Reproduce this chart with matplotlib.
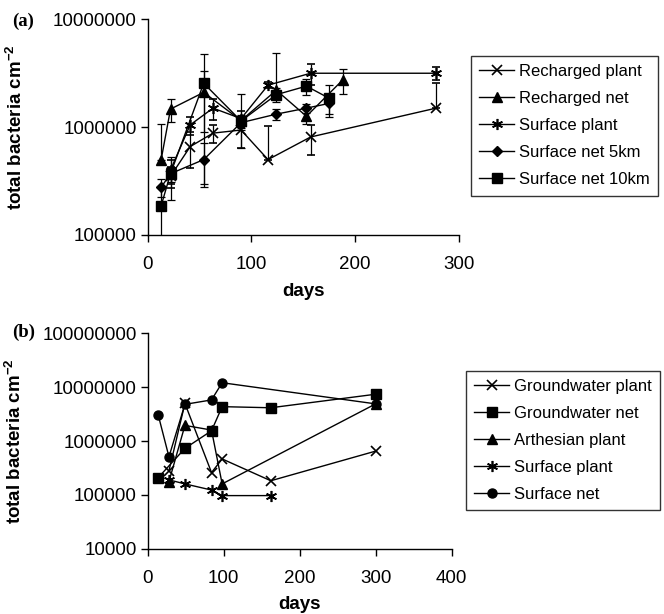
import numpy as np
import matplotlib
matplotlib.use("Agg")
import matplotlib.pyplot as plt
from matplotlib.lines import Line2D
from matplotlib.ticker import FixedLocator, FuncFormatter

plt.rcParams['font.family'] = ['Liberation Sans', 'DejaVu Sans']
plt.rcParams['mathtext.fontset'] = 'custom'
plt.rcParams['mathtext.rm'] = 'Liberation Sans'
plt.rcParams['mathtext.bf'] = 'Liberation Sans:bold'

# --- panel (a) data: days, counts, error bars (low, high) ---
rp_days = [22, 41, 63, 90, 116, 157, 278]
rp_vals = [3.5e5, 6.6e5, 8.8e5, 9.4e5, 5.0e5, 8.1e5, 1.5e6]
rp_lo = [8e4, 2.4e5, 1.6e5, 3.0e5, 0, 2.6e5, 0]
rp_hi = [8e4, 2.4e5, 1.6e5, 3.0e5, 5.3e5, 2.4e5, 1.05e6]

rn_days = [13, 22, 54, 90, 124, 153, 188]
rn_vals = [5.0e5, 1.47e6, 2.1e6, 1.15e6, 2.2e6, 1.26e6, 2.74e6]
rn_lo = [0, 3.6e5, 1.2e6, 5.1e5, 0, 2.0e5, 7.0e5]
rn_hi = [5.7e5, 3.6e5, 1.2e6, 9.0e5, 2.7e6, 2.0e5, 7.0e5]

sp_days = [22, 41, 63, 90, 116, 157, 278]
sp_vals = [4.0e5, 1.05e6, 1.5e6, 1.2e6, 2.45e6, 3.16e6, 3.16e6]
sp_err = [1.0e5, 2.0e5, 3.3e5, 2.0e5, 1.5e5, 7.0e5, 4.5e5]

s5_days = [13, 22, 54, 90, 124, 153, 175]
s5_vals = [2.77e5, 3.7e5, 5.0e5, 1.1e6, 1.32e6, 1.5e6, 1.66e6]
s5_err = [5e4, 6e4, 2.2e5, 1.5e5, 1.5e5, 1.5e5, 3.5e5]

s10_days = [13, 22, 54, 90, 124, 153, 175]
s10_vals = [1.87e5, 3.7e5, 2.55e6, 1.14e6, 2.0e6, 2.4e6, 1.85e6]
s10_err = [9.1e4, 1.6e5, 2.25e6, 1.5e5, 3.0e5, 4.0e5, 6.0e5]

# --- panel (b) data ---
gp_days = [28, 49, 84, 98, 162, 300]
gp_vals = [2.8e5, 5.0e6, 2.6e5, 4.65e5, 1.83e5, 6.5e5]
gn_days = [14, 49, 84, 98, 162, 300]
gn_vals = [2.1e5, 7.3e5, 1.55e6, 4.35e6, 4.15e6, 7.4e6]
ap_days = [28, 49, 84, 98, 300]
ap_vals = [1.76e5, 1.95e6, 1.6e6, 1.6e5, 4.9e6]
bsp_days = [28, 49, 84, 98, 162]
bsp_vals = [1.9e5, 1.6e5, 1.23e5, 9.7e4, 9.7e4]
sn_days = [14, 28, 49, 84, 98, 300]
sn_vals = [3.0e6, 5.1e5, 4.8e6, 5.8e6, 1.21e7, 4.9e6]

ASTER = (6, 2, 0)
kw = dict(color='black', lw=1.0, mec='black', mfc='black')
mk_x = dict(marker='x', ms=7, mew=1.2)
mk_tri = dict(marker='^', ms=6.5)
mk_ast = dict(marker=ASTER, ms=8, mew=1.2)
mk_dia = dict(marker='D', ms=5)
mk_sq = dict(marker='s', ms=6.5)
mk_o = dict(marker='o', ms=6.5)

fig = plt.figure(figsize=(6.64, 6.14), dpi=100)
ax1 = fig.add_axes([0.2224, 0.6173, 0.4688, 0.3513])
ax2 = fig.add_axes([0.2224, 0.1063, 0.4578, 0.3508])

ebkw = dict(capsize=3.2, elinewidth=0.9, capthick=0.9, ecolor='black')
ax1.errorbar(rp_days, rp_vals, yerr=[rp_lo, rp_hi], **mk_x, **kw, **ebkw)
ax1.errorbar(rn_days, rn_vals, yerr=[rn_lo, rn_hi], **mk_tri, **kw, **ebkw)
ax1.errorbar(sp_days, sp_vals, yerr=sp_err, **mk_ast, **kw, **ebkw)
ax1.errorbar(s5_days, s5_vals, yerr=s5_err, **mk_dia, **kw, **ebkw)
ax1.errorbar(s10_days, s10_vals, yerr=s10_err, **mk_sq, **kw, **ebkw)
labels_a = ['Recharged plant', 'Recharged net', 'Surface plant',
            'Surface net 5km', 'Surface net 10km']
handles_a = [Line2D([], [], **m, **kw) for m in (mk_x, mk_tri, mk_ast, mk_dia, mk_sq)]

ax2.plot(gp_days, gp_vals, **mk_x, **kw)
ax2.plot(gn_days, gn_vals, **mk_sq, **kw)
ax2.plot(ap_days, ap_vals, **mk_tri, **kw)
ax2.plot(bsp_days, bsp_vals, **mk_ast, **kw)
ax2.plot(sn_days, sn_vals, **mk_o, **kw)
labels_b = ['Groundwater plant', 'Groundwater net', 'Arthesian plant',
            'Surface plant', 'Surface net']
handles_b = [Line2D([], [], **m, **kw) for m in (mk_x, mk_sq, mk_tri, mk_ast, mk_o)]

plain = FuncFormatter(lambda v, p: '%d' % round(v))
for ax, ylo, yhi, xmax, xt, ylx in [(ax1, 1e5, 1e7, 300, [0, 100, 200, 300], -0.391),
                                    (ax2, 1e4, 1e8, 400, [0, 100, 200, 300, 400], -0.404)]:
    ax.set_yscale('log')
    ax.set_ylim(ylo, yhi)
    ax.set_xlim(0, xmax)
    ax.set_xticks(xt)
    ax.yaxis.set_major_locator(FixedLocator(10.0 ** np.arange(np.log10(ylo), np.log10(yhi) + 1)))
    ax.yaxis.set_minor_locator(FixedLocator([]))
    ax.yaxis.set_major_formatter(plain)
    for s in ['top', 'right']:
        ax.spines[s].set_visible(False)
    for s in ['left', 'bottom']:
        ax.spines[s].set_linewidth(1.0)
    ax.tick_params(direction='out', length=5, width=1.0, labelsize=13.5)
    ax.tick_params(axis='y', pad=3)
    ax.tick_params(axis='x', pad=10)
    ax.set_xlabel('days', fontsize=13.5, fontweight='bold', labelpad=7)
    ax.set_ylabel(r'total bacteria cm$^{\mathbf{-2}}$', fontsize=13.5, fontweight='bold')
    ax.yaxis.set_label_coords(ylx, 0.5)

legkw = dict(loc='upper left', frameon=True, fancybox=False, edgecolor='black',
             fontsize=12, handlelength=2.1, handletextpad=0.3, labelspacing=0.72,
             borderpad=0.5, borderaxespad=0)
lg1 = fig.legend(handles_a, labels_a, bbox_to_anchor=(0.709, 0.909), **legkw)
lg2 = fig.legend(handles_b, labels_b, bbox_to_anchor=(0.7014, 0.3963), **legkw)
for lg in (lg1, lg2):
    lg.get_frame().set_linewidth(1.0)

fig.text(0.018, 0.966, '(a)', fontsize=13.5, fontweight='bold', family='Liberation Serif', va='center')
fig.text(0.018, 0.458, '(b)', fontsize=13.5, fontweight='bold', family='Liberation Serif', va='center')

fig.savefig('out.png', dpi=100)
